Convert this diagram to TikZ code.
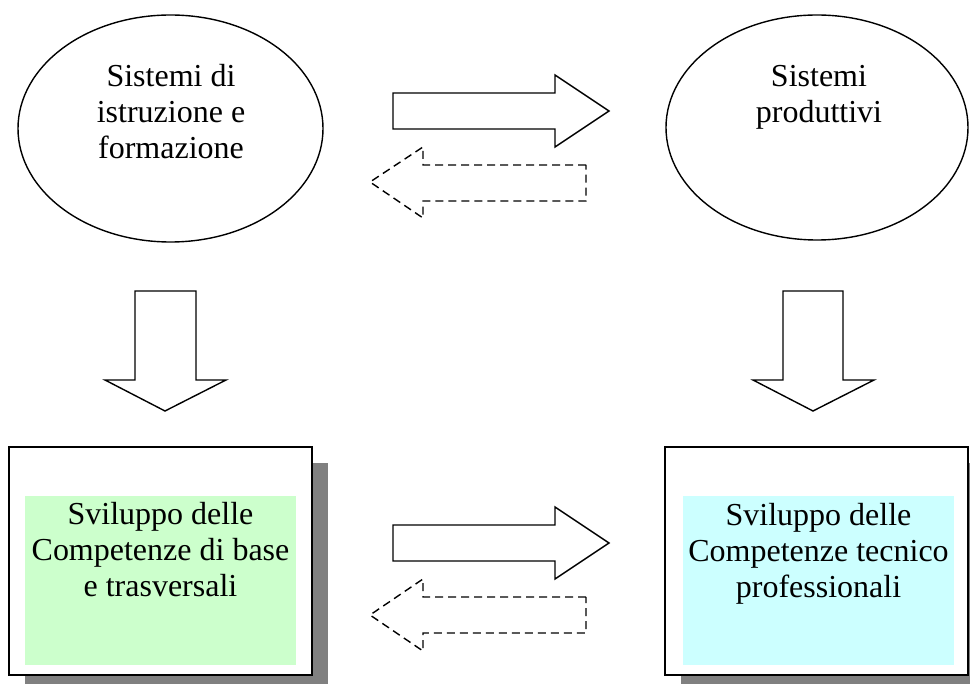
\documentclass[tikz,border=0pt]{standalone}
\usepackage{fontspec}
\setmainfont{Liberation Serif}
\usetikzlibrary{shapes.geometric}

\definecolor{shadowgray}{HTML}{808080}
\definecolor{basegreen}{HTML}{CCFFCC}
\definecolor{techcyan}{HTML}{CCFFFF}

\tikzset{
  txt/.style={font=\fontsize{32}{36}\selectfont, align=center, inner sep=0pt},
  sysellipse/.style={ellipse, draw, line width=1.4pt, inner sep=0pt,
    minimum width=305pt, minimum height=227pt},
  framebox/.style={draw, line width=2pt, fill=white, rectangle, inner sep=0pt,
    minimum width=303pt, minimum height=228pt},
  shadowbox/.style={fill=shadowgray, rectangle, inner sep=0pt,
    minimum width=303pt, minimum height=228pt},
  colorpanel/.style={rectangle, inner sep=0pt, minimum width=271pt, minimum height=169pt},
  blockarrow/.style={draw, line width=1.4pt, fill=white, line join=miter},
  backarrow/.style={draw, line width=1.4pt, dash pattern=on 8pt off 5pt},
}

\begin{document}
\begin{tikzpicture}[x=1pt,y=-1pt]
\useasboundingbox (0,0) rectangle (970,684);

% upper systems
\node[sysellipse] (istr) at (170.5,128.5) {};
\node[txt] (istrtxt) at (171,112) {Sistemi di\\istruzione e\\formazione};
\node[sysellipse, minimum width=302pt, minimum height=225pt] (prod) at (817,127.5) {};
\node[txt] (prodtxt) at (819,97.5) {Sistemi\\produttivi};

% lower competence boxes with drop shadows
\node[shadowbox] (lshadow) at (176.5,577) {};
\node[framebox] (lbox) at (160.5,561) {};
\node[colorpanel, fill=basegreen] (lpanel) at (160.5,580.5) {};
\node[txt] (ltxt) at (160.5,550) {Sviluppo delle\\Competenze di base\\e trasversali};

\node[shadowbox] (rshadow) at (832.5,577) {};
\node[framebox] (rbox) at (816.5,561) {};
\node[colorpanel, fill=techcyan] (rpanel) at (818.5,580.5) {};
\node[txt] (rtxt) at (818.5,553.5) {Sviluppo delle\\Competenze tecnico\\professionali};

% horizontal block arrows (solid forward, dashed backward)
\draw[blockarrow] (393,93) -- (555,93) -- (555,75) -- (609,111) -- (555,147)
  -- (555,129) -- (393,129) -- cycle;
\draw[backarrow] (586,165) -- (423,165) -- (423,147) -- (370,182) -- (423,218)
  -- (423,201) -- (586,201) -- cycle;

\draw[blockarrow] (393,525) -- (555,525) -- (555,507) -- (609,543) -- (555,579)
  -- (555,561) -- (393,561) -- cycle;
\draw[backarrow] (586,597) -- (423,597) -- (423,579) -- (370,615) -- (423,651)
  -- (423,633) -- (586,633) -- cycle;

% vertical block arrows
\draw[blockarrow] (135,291) -- (196,291) -- (196,380) -- (226,380) -- (165,411)
  -- (105,380) -- (135,380) -- cycle;
\draw[blockarrow] (783,291) -- (843,291) -- (843,380) -- (874,380) -- (813,411)
  -- (753,380) -- (783,380) -- cycle;
\end{tikzpicture}
\end{document}
